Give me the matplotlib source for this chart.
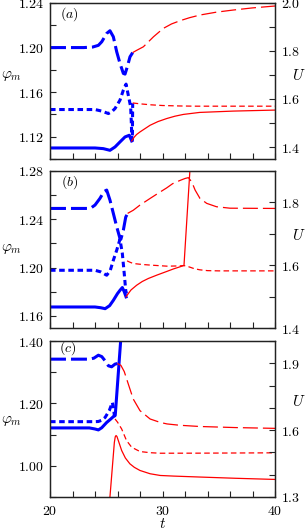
import matplotlib
matplotlib.use('Agg')
import matplotlib.pyplot as plt
from matplotlib.ticker import FixedLocator, MultipleLocator, FuncFormatter

plt.rcParams['mathtext.fontset'] = 'cm'
plt.rcParams['font.family'] = 'DejaVu Serif'
plt.rcParams['lines.scale_dashes'] = False

# ---------------- Panel (a) ----------------
a_long_blue_t = [20.0, 23.0, 23.8, 24.3, 24.6, 25.04, 25.33, 25.63, 25.93, 26.22, 26.52, 26.67, 26.87, 27.11, 27.35]
a_long_blue_y = [1.200, 1.200, 1.2005, 1.2020, 1.2052, 1.2127, 1.2151, 1.2097, 1.1962, 1.1858, 1.1768, 1.1762, 1.1827, 1.1917, 1.1955]
a_long_red_t = [27.35, 27.7, 28.3, 29.2, 30.07, 30.8, 31.56, 32.4, 33.33, 34.8, 36.3, 38.0, 40.0]
a_long_red_y = [1.1955, 1.1975, 1.2007, 1.2097, 1.2172, 1.2212, 1.2241, 1.2268, 1.2292, 1.2318, 1.2337, 1.2356, 1.2373]
a_short_blue_t = [20.0, 24.0, 24.6, 25.19, 25.5, 25.78, 26.22, 26.52, 26.76, 26.9, 27.05, 27.17, 27.22, 27.27, 27.32, 27.35]
a_short_blue_y = [1.1444, 1.1444, 1.1430, 1.1408, 1.1425, 1.1453, 1.1528, 1.1618, 1.1672, 1.1602, 1.1528, 1.1467, 1.1350, 1.1200, 1.1168, 1.1500]
a_short_red_t = [27.35, 28.0, 29.0, 30.0, 31.5, 33.0, 36.0, 40.0]
a_short_red_y = [1.1503, 1.1495, 1.1486, 1.1480, 1.1476, 1.1474, 1.1474, 1.1474]
a_solid_blue_t = [20.0, 24.0, 24.74, 25.33, 25.78, 26.22, 26.67, 27.05, 27.26]
a_solid_blue_y = [1.1099, 1.1099, 1.1093, 1.1078, 1.1108, 1.1153, 1.1198, 1.1213, 1.1162]
a_solid_red_t = [27.26, 27.5, 27.7, 28.0, 28.9, 29.6, 30.37, 31.1, 31.85, 33.3, 36.3, 40.0]
a_solid_red_y = [1.1162, 1.1198, 1.1220, 1.1243, 1.1303, 1.1336, 1.1363, 1.1384, 1.1400, 1.1418, 1.1430, 1.1439]

# ---------------- Panel (b) ----------------
b_long_blue_t = [20.0, 23.3, 23.7, 24.0, 24.44, 24.8, 25.04, 25.33, 25.63, 25.93, 26.22, 26.3, 26.52, 26.73, 26.9]
b_long_blue_y = [1.249, 1.249, 1.2498, 1.2518, 1.2573, 1.2630, 1.2642, 1.2559, 1.2449, 1.2338, 1.2241, 1.2235, 1.2310, 1.2418, 1.2449]
b_long_red_t = [26.9, 27.4, 28.0, 28.9, 29.6, 30.37, 30.9, 31.56, 32.0, 32.3, 32.6, 32.9, 33.33, 33.93, 34.8, 36.0, 40.0]
b_long_red_y = [1.2449, 1.2475, 1.2518, 1.2573, 1.2615, 1.2660, 1.2695, 1.2722, 1.2738, 1.2745, 1.2710, 1.2642, 1.2573, 1.2532, 1.2504, 1.2492, 1.2490]
b_short_blue_t = [20.0, 24.0, 24.5, 25.04, 25.35, 25.63, 25.93, 26.22, 26.43, 26.6, 26.73, 26.8]
b_short_blue_y = [1.1978, 1.1978, 1.1965, 1.1937, 1.1975, 1.2061, 1.2144, 1.2235, 1.2117, 1.1950, 1.1812, 1.1785]
b_short_red_t = [26.85, 27.1, 27.4, 28.2, 28.9, 30.4, 31.5, 31.9, 32.3, 32.8, 33.3, 34.0, 35.0, 40.0]
b_short_red_y = [1.2056, 1.2045, 1.2034, 1.2026, 1.2021, 1.2012, 1.2014, 1.2017, 1.2008, 1.1992, 1.1982, 1.1975, 1.1973, 1.1973]
b_solid_blue_t = [20.0, 24.0, 24.5, 24.9, 25.3, 25.63, 26.0, 26.22, 26.43, 26.6, 26.76]
b_solid_blue_y = [1.1674, 1.1674, 1.1668, 1.1660, 1.1685, 1.1729, 1.1785, 1.1812, 1.1835, 1.1800, 1.1758]
b_solid_red_t = [26.76, 26.96, 27.2, 27.7, 28.2, 28.74, 29.5, 30.37, 31.0, 31.5, 31.91, 32.5]
b_solid_red_y = [1.1758, 1.1785, 1.1815, 1.1854, 1.1885, 1.1910, 1.1938, 1.1968, 1.1990, 1.2005, 1.2018, 1.2900]

# ---------------- Panel (c) ----------------
c_long_blue_t = [20.0, 23.5, 23.9, 24.3, 24.6, 24.9, 25.19, 25.48, 25.78, 26.0]
c_long_blue_y = [1.3418, 1.3418, 1.3450, 1.3545, 1.3500, 1.3364, 1.3205, 1.3173, 1.3259, 1.3278]
c_long_red_t = [26.0, 26.3, 26.6, 26.96, 27.4, 28.0, 28.9, 29.8, 30.4, 31.5, 33.3, 36.5, 40.0]
c_long_red_y = [1.3278, 1.3220, 1.3020, 1.2620, 1.2140, 1.1767, 1.1500, 1.1390, 1.1342, 1.1300, 1.1260, 1.1225, 1.1200]
c_short_blue_t = [20.0, 24.0, 24.3, 24.6, 24.9, 25.27, 25.54, 25.65, 25.72, 25.78]
c_short_blue_y = [1.1415, 1.1415, 1.1420, 1.1460, 1.1550, 1.1770, 1.2030, 1.1850, 1.1610, 1.1500]
c_short_red_t = [25.78, 26.0, 26.37, 26.8, 27.26, 28.0, 28.9, 29.8, 33.0, 40.0]
c_short_red_y = [1.1500, 1.1400, 1.1180, 1.0810, 1.0594, 1.0457, 1.0420, 1.0403, 1.0405, 1.0416]
c_solid_blue_t = [20.0, 23.5, 24.0, 24.3, 24.6, 25.04, 25.4, 25.63, 25.80, 26.30]
c_solid_blue_y = [1.1214, 1.1214, 1.1180, 1.1150, 1.1220, 1.1390, 1.1500, 1.1575, 1.1620, 1.4100]
c_solid_red_t = [25.25, 25.72, 25.80, 25.87, 25.95, 26.1, 26.37, 26.7, 27.1, 27.5, 28.0, 28.9, 29.8, 31.0, 33.3, 36.5, 40.0]
c_solid_red_y = [0.865, 1.075, 1.093, 1.097, 1.094, 1.078, 1.049, 1.025, 1.0064, 0.995, 0.985, 0.9745, 0.969, 0.967, 0.964, 0.960, 0.9563]

# ---------------- Axes / ticks ----------------
x_lim = (20, 40)
x_major_ticks = [20, 30, 40]
x_minor_step = 2

panel_labels = ['(a)', '(b)', '(c)']
left_lims = [(1.10, 1.24), (1.15, 1.28), (0.90, 1.40)]
left_major_ticks = [[1.12, 1.16, 1.20, 1.24], [1.16, 1.20, 1.24, 1.28], [1.00, 1.20, 1.40]]
left_minor_steps = [0.02, 0.02, 0.1]
right_lims = [(1.35, 2.0), (1.4, 1.9), (1.3, 2.0)]
right_major_ticks = [[1.4, 1.6, 1.8, 2.0], [1.4, 1.6, 1.8], [1.3, 1.6, 1.9]]
right_minor_step = 0.1

panels = [
    dict(long_blue=(a_long_blue_t, a_long_blue_y), long_red=(a_long_red_t, a_long_red_y),
         short_blue=(a_short_blue_t, a_short_blue_y), short_red=(a_short_red_t, a_short_red_y),
         solid_blue=(a_solid_blue_t, a_solid_blue_y), solid_red=(a_solid_red_t, a_solid_red_y)),
    dict(long_blue=(b_long_blue_t, b_long_blue_y), long_red=(b_long_red_t, b_long_red_y),
         short_blue=(b_short_blue_t, b_short_blue_y), short_red=(b_short_red_t, b_short_red_y),
         solid_blue=(b_solid_blue_t, b_solid_blue_y), solid_red=(b_solid_red_t, b_solid_red_y)),
    dict(long_blue=(c_long_blue_t, c_long_blue_y), long_red=(c_long_red_t, c_long_red_y),
         short_blue=(c_short_blue_t, c_short_blue_y), short_red=(c_short_red_t, c_short_red_y),
         solid_blue=(c_solid_blue_t, c_solid_blue_y), solid_red=(c_solid_red_t, c_solid_red_y)),
]

BLUE = '#0000ff'
RED = '#ff0000'
styles = {
    'long_blue': dict(color=BLUE, lw=2.2, dashes=(11.5, 3.6)),
    'short_blue': dict(color=BLUE, lw=2.2, dashes=(4.0, 2.6)),
    'solid_blue': dict(color=BLUE, lw=2.2, ls='-'),
    'long_red': dict(color=RED, lw=0.9, dashes=(10.8, 3.6)),
    'short_red': dict(color=RED, lw=0.9, dashes=(4.0, 2.4)),
    'solid_red': dict(color=RED, lw=0.9, ls='-'),
}

fig = plt.figure(figsize=(3.07, 5.32), dpi=100)
positions = [
    [50/307, 1 - 159/532, 225/307, 156/532],
    [50/307, 1 - 328/532, 225/307, 157/532],
    [50/307, 1 - 497/532, 225/307, 156/532],
]
label_pos_a = [(0.087, 0.929), (0.087, 0.932), (0.08, 0.953)]
phi_y = [0.532, 0.503, 0.488]
u_y = [0.538, 0.592, 0.611]

spine_col = '#222222'
for i, (pos, data) in enumerate(zip(positions, panels)):
    ax = fig.add_axes(pos)
    ax2 = ax.twinx()
    for key in ['long_blue', 'short_blue', 'solid_blue', 'long_red', 'short_red', 'solid_red']:
        t, y = data[key]
        ax.plot(t, y, **styles[key])
    ax.set_xlim(*x_lim)
    ax.set_ylim(*left_lims[i])
    ax2.set_ylim(*right_lims[i])

    ax.xaxis.set_major_locator(FixedLocator(x_major_ticks))
    ax.xaxis.set_minor_locator(MultipleLocator(x_minor_step))
    ax.yaxis.set_major_locator(FixedLocator(left_major_ticks[i]))
    ax.yaxis.set_minor_locator(MultipleLocator(left_minor_steps[i]))
    ax2.yaxis.set_major_locator(FixedLocator(right_major_ticks[i]))
    ax2.yaxis.set_minor_locator(MultipleLocator(right_minor_step))

    ax.yaxis.set_major_formatter(FuncFormatter(lambda v, p: f'${v:.2f}$'))
    ax2.yaxis.set_major_formatter(FuncFormatter(lambda v, p: f'${v:.1f}$'))
    if i == 2:
        ax.xaxis.set_major_formatter(FuncFormatter(lambda v, p: f'${v:.0f}$'))
    else:
        ax.xaxis.set_major_formatter(FuncFormatter(lambda v, p: ''))

    for a in (ax, ax2):
        a.tick_params(which='both', direction='in', length=4, width=0.8, color=spine_col,
                      labelsize=10, top=False)
        for s in a.spines.values():
            s.set_color(spine_col)
            s.set_linewidth(0.9)
    ax.tick_params(axis='y', which='both', right=False, pad=4)
    ax.tick_params(axis='x', which='both', pad=5)
    ax2.tick_params(axis='y', which='both', left=False, right=True, pad=4)

    ax.text(label_pos_a[i][0], label_pos_a[i][1], f'${panel_labels[i]}$', transform=ax.transAxes,
            ha='center', va='center', fontsize=10)
    ax.set_ylabel(r'$\varphi_m$', rotation=0, fontsize=11, ha='center', va='center')
    ax.yaxis.set_label_coords(-0.173, phi_y[i])
    ax2.set_ylabel(r'$U$', rotation=0, fontsize=11, ha='center', va='center')
    ax2.yaxis.set_label_coords(1.105, u_y[i])
    if i == 2:
        ax.text(0.5, -0.198, r'$t$', transform=ax.transAxes, ha='center', va='baseline', fontsize=11)

fig.savefig('out.png', dpi=100)
